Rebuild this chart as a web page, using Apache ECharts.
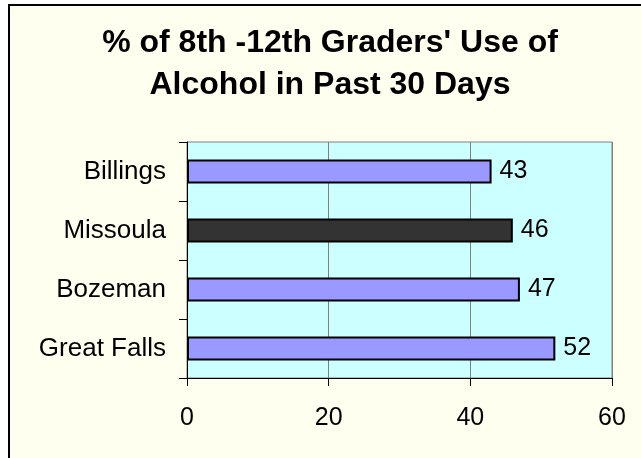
<!DOCTYPE html>
<html>
<head>
<meta charset="utf-8">
<script src="https://cdn.jsdelivr.net/npm/echarts@6/dist/echarts.min.js"></script>
<style>
  html, body { margin: 0; padding: 0; background: #fff; }
  #chart { width: 641px; height: 458px; }
</style>
</head>
<body>
<div id="chart"></div>
<script>
// 数据
const cities = ['Billings', 'Missoula', 'Bozeman', 'Great Falls']
const percents = [43, 46, 47, 52]
const barColors = ['#9999FF', '#333333', '#9999FF', '#9999FF']
const xTicks = [0, 20, 40, 60]

const chart = echarts.init(document.getElementById('chart'))

const option = {
  backgroundColor: '#fff',
  animation: false,
  textStyle: { fontFamily: 'Liberation Sans, Arial, sans-serif' },
  graphic: [
    {
      type: 'rect',
      z: -10,
      silent: true,
      shape: { x: 9, y: 5, width: 700, height: 500 },
      style: { fill: '#FFFFF0', stroke: '#000', lineWidth: 2 },
    },
  ],
  title: {
    text: "% of 8th -12th Graders' Use of\nAlcohol in Past 30 Days",
    left: 330,
    top: 22,
    padding: 0,
    textAlign: 'center',
    textStyle: {
      fontSize: 32,
      fontWeight: 'bold',
      color: '#000',
      lineHeight: 42,
      fontFamily: 'Liberation Sans, Arial, sans-serif',
    },
  },
  grid: {
    left: 187,
    right: 29,
    top: 142,
    bottom: 80,
    show: true,
    backgroundColor: '#CCFFFF',
    borderColor: '#808080',
    borderWidth: 1,
  },
  xAxis: {
    type: 'value',
    min: xTicks[0],
    max: xTicks[xTicks.length - 1],
    interval: 20,
    axisLine: { show: true, lineStyle: { color: '#000', width: 1 } },
    axisTick: { show: true, length: 8, lineStyle: { color: '#000' } },
    axisLabel: { fontSize: 25, color: '#000', margin: 28 },
    splitLine: { show: true, lineStyle: { color: '#808080', width: 1 } },
  },
  yAxis: {
    type: 'category',
    inverse: true,
    data: cities,
    axisLine: { show: true, lineStyle: { color: '#000', width: 1 } },
    axisTick: { show: true, length: 8, lineStyle: { color: '#000' } },
    axisLabel: { fontSize: 26, color: '#000', margin: 21 },
  },
  series: [
    {
      type: 'bar',
      barWidth: 24,
      data: percents.map((v, i) => ({
        value: v,
        itemStyle: { color: barColors[i] },
      })),
      itemStyle: { borderColor: '#000', borderWidth: 2 },
      label: {
        show: true,
        position: 'right',
        distance: 8,
        fontSize: 25,
        color: '#000',
      },
    },
  ],
}

chart.setOption(option)
</script>
</body>
</html>
